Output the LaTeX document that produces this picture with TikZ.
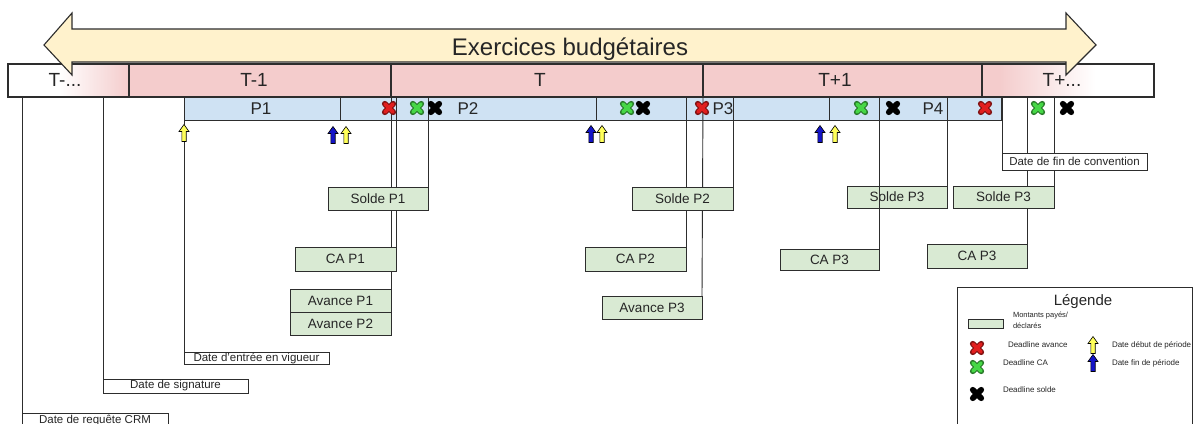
\documentclass[tikz,border=0pt]{standalone}
\usepackage{fontspec}
\setmainfont{Liberation Sans}
\definecolor{ypink}{RGB}{244,204,204}
\definecolor{pblue}{RGB}{207,226,243}
\definecolor{gfill}{RGB}{217,234,211}
\definecolor{ayellow}{RGB}{255,242,204}
\definecolor{xred}{RGB}{225,30,30}
\definecolor{xgreen}{RGB}{70,215,70}
\definecolor{ublue}{RGB}{20,20,200}
\definecolor{uyellow}{RGB}{255,255,90}
\definecolor{lin}{RGB}{45,45,45}
\pgfdeclarehorizontalshading{tminus}{100bp}{color(0bp)=(white); color(25bp)=(white); color(46bp)=(white); color(75bp)=(ypink); color(100bp)=(ypink)}
\pgfdeclarehorizontalshading{tplus}{100bp}{color(0bp)=(ypink); color(25bp)=(ypink); color(30bp)=(ypink); color(58bp)=(white); color(100bp)=(white)}
\newcommand{\fsz}[1]{\fontsize{#1}{#1}\selectfont}
\pgfdeclarelayer{bg}
\pgfdeclarelayer{lines}
\pgfsetlayers{bg,lines,main}
\begin{document}
\begin{tikzpicture}[x=1pt,y=-1pt,
  base/.style={inner sep=0pt, outer sep=0pt, text=black!85},
  yearcell/.style={base, draw=lin, line width=1.1pt, fill=ypink, anchor=north west, minimum height=33pt},
  ylab/.style={base, anchor=base, font=\fsz{19}},
  pcell/.style={base, draw=lin, line width=1pt, fill=pblue, anchor=north west, minimum height=23pt},
  plab/.style={base, anchor=base, font=\fsz{17}},
  gbox/.style={base, draw=lin, line width=0.9pt, fill=gfill, anchor=north east, minimum width=100pt, minimum height=23pt, font=\fsz{13.5}},
  wbox/.style={base, draw=lin, line width=0.9pt, fill=white, anchor=north west, minimum width=145pt, font=\fsz{11.5}},
  conn/.style={draw=lin, line width=0.9pt},
  ltext/.style={base, anchor=west, font=\fsz{8}},
  xmark/.pic={\draw[line width=5.8pt,line cap=round,draw=#1!55!black] (-4.2,-4.2)--(4.2,4.2) (-4.2,4.2)--(4.2,-4.2);
              \draw[line width=3.6pt,line cap=round,draw=#1] (-4.2,-4.2)--(4.2,4.2) (-4.2,4.2)--(4.2,-4.2);},
  uparrow/.pic={\filldraw[fill=#1, draw=black, line width=0.6pt, line join=miter] (0,-8.5)--(5,-1.5)--(2.2,-1.5)--(2.2,8.5)--(-2.2,8.5)--(-2.2,-1.5)--(-5,-1.5)--cycle;}
]
\useasboundingbox (0,0) rectangle (1194,423);

\begin{pgfonlayer}{bg}
\fill[white] (0,0) rectangle (1194,423);
% year row
\node[yearcell, fill=none, shade, shading=tminus, minimum width=121pt] (ym) at (8,64) {};
\node[yearcell, minimum width=262pt] (y1) at (129,64) {};
\node[yearcell, minimum width=312pt] (y2) at (391,64) {};
\node[yearcell, minimum width=279pt] (y3) at (703,64) {};
\node[yearcell, fill=none, shade, shading=tplus, minimum width=172pt] (y4) at (982,64) {};
% big double arrow
\filldraw[fill=ayellow, draw=lin, line width=1.1pt, line join=miter]
  (44,45) -- (72,13) -- (72,29) -- (1066,29) -- (1066,13) -- (1096,45) -- (1066,75) -- (1066,62) -- (72,62) -- (72,75) -- cycle;
\node[base, anchor=base, font=\fsz{24}] (ex) at (570,55) {Exercices budgétaires};
\node[ylab] (lym) at (65,86) {T-...};
\node[ylab] (ly1) at (254,86) {T-1};
\node[ylab] (ly2) at (540,86) {T};
\node[ylab] (ly3) at (835,86) {T+1};
\node[ylab] (ly4) at (1062,86) {T+...};
% period row
\node[pcell, minimum width=156pt] (p1) at (184,97) {};
\node[pcell, minimum width=256pt] (p2) at (340,97) {};
\node[pcell, minimum width=90pt] (p3) at (596,97) {};
\node[pcell, minimum width=143pt] (p4) at (686,97) {};
\node[pcell, minimum width=50pt] (p5) at (829,97) {};
\node[pcell, minimum width=68pt] (p6) at (879,97) {};
\node[pcell, minimum width=54pt] (p7) at (947,97) {};
\node[plab] (lp1) at (261,114) {P1};
\node[plab] (lp2) at (468,114) {P2};
\node[plab] (lp3) at (723,114) {P3};
\node[plab] (lp4) at (933,114) {P4};
\end{pgfonlayer}

% amount boxes
\node[gbox] (soldeA) at (428,187) {Solde P1};
\node[gbox, minimum width=101pt, minimum height=24pt] (caA) at (396,247) {CA P1};
\node[gbox, minimum width=101pt] (avA) at (391,289) {Avance P1};
\node[gbox, minimum width=101pt] (avB) at (avA.south east) {Avance P2};
\node[gbox, minimum width=101pt] (soldeB) at (733,187) {Solde P2};
\node[gbox, minimum width=101pt, minimum height=24pt] (caB) at (686,247) {CA P2};
\node[gbox] (avC) at (702,296) {Avance P3};
\node[gbox, minimum height=22pt] (soldeC) at (947,186) {Solde P3};
\node[gbox, minimum width=99pt, minimum height=21pt] (caC) at (879,249) {CA P3};
\node[gbox, minimum width=101pt, minimum height=22pt] (soldeD) at (1054,186) {Solde P3};
\node[gbox, minimum height=24pt] (caD) at (1027,244) {CA P3};
% date boxes
\node[wbox, minimum height=17pt] (fin) at (1002,153) {Date de fin de convention};
\node[wbox, minimum height=12pt] (entree) at (184,352) {Date d'entrée en vigueur};
\node[wbox, minimum height=14pt] (sign) at (103,379) {Date de signature};
\node[wbox, minimum width=146pt, minimum height=16pt] (crm) at (22,413) {Date de requête CRM};

% connectors
\coordinate (tA) at (391,97);
\coordinate (tB) at (396,97);
\coordinate (tC) at (428,97);
\coordinate (tD) at (686,97);
\coordinate (tE) at (703,97);
\coordinate (tF) at (733,97);
\coordinate (tG) at (879,97);
\coordinate (tH) at (947,97);
\coordinate (tI) at (1002,97);
\coordinate (tJ) at (1027,97);
\coordinate (tK) at (1054,97);
\coordinate (tL) at (22,97);
\coordinate (tM) at (103,97);
\coordinate (tN) at (184,120);
\begin{pgfonlayer}{lines}
\draw[conn] (tA) -- (avA.north east);
\draw[conn] (tB) -- (caA.north east);
\draw[conn] (tC) -- (soldeA.north east);
\draw[conn] (tD) -- (caB.north east);
\draw[conn] (tE) -- (avC.north east);
\draw[conn] (tF) -- (soldeB.north east);
\draw[conn] (tH) -- (soldeC.north east);
\draw[conn] (tI) -- (fin.north west);
\draw[conn] (tJ) -- (caD.north east);
\draw[conn] (tK) -- (soldeD.north east);
\draw[conn] (tL) -- (crm.north west);
\draw[conn] (tM) -- (sign.north west);
\draw[conn] (tN) -- (entree.north west);
\end{pgfonlayer}
\draw[conn] (tG) -- (caC.north east);

% deadline crosses
\pic at (389,108) {xmark=xred};
\pic at (417,108) {xmark=xgreen};
\pic at (435,108) {xmark=black};
\pic at (627,108) {xmark=xgreen};
\pic at (643,108) {xmark=black};
\pic at (702,108) {xmark=xred};
\pic at (861,108) {xmark=xgreen};
\pic at (893,108) {xmark=black};
\pic at (985,108) {xmark=xred};
\pic at (1038,108) {xmark=xgreen};
\pic at (1067,108) {xmark=black};

% period arrows
\pic at (184,133) {uparrow=uyellow};
\pic at (333,135) {uparrow=ublue};
\pic at (346,135) {uparrow=uyellow};
\pic at (591,134) {uparrow=ublue};
\pic at (602,134) {uparrow=uyellow};
\pic at (820,134) {uparrow=ublue};
\pic at (835,134) {uparrow=uyellow};

% legend
\node[base, draw=lin, line width=1pt, fill=white, anchor=north west, minimum width=235pt, minimum height=140pt] (leg) at (957,287) {};
\node[base, anchor=base, font=\fsz{15}] (legt) at (1083,305) {Légende};
\node[base, draw=lin, line width=0.8pt, fill=gfill, anchor=north west, minimum width=35pt, minimum height=9pt] (legg) at (968,319) {};
\node[base, anchor=north west, align=left, font=\fontsize{7.5}{11}\selectfont] (legm) at (1013,312) {Montants payés/\\déclarés};
\pic at (977,348) {xmark=xred};
\node[ltext] (lda) at (1008,345) {Deadline avance};
\pic at (977,367) {xmark=xgreen};
\node[ltext] (ldc) at (1003,363) {Deadline CA};
\pic at (977,394) {xmark=black};
\node[ltext] (lds) at (1003,390) {Deadline solde};
\pic at (1093,345) {uparrow=uyellow};
\node[ltext] (ldd) at (1112,345) {Date début de période};
\pic at (1093,363) {uparrow=ublue};
\node[ltext] (ldf) at (1112,363) {Date fin de période};
\end{tikzpicture}
\end{document}
